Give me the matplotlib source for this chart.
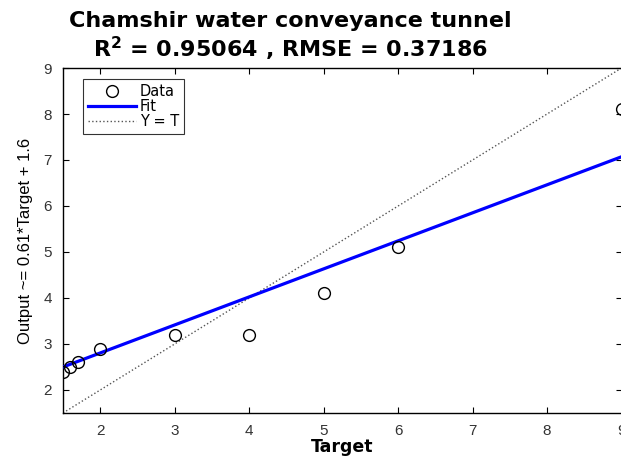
import matplotlib
matplotlib.use("Agg")
import matplotlib.pyplot as plt

# Data
target = [1.5, 1.6, 1.7, 2.0, 3.0, 4.0, 5.0, 6.0, 9.0]
output = [2.4, 2.5, 2.6, 2.9, 3.2, 3.2, 4.1, 5.1, 8.1]
fit_slope = 0.6094
fit_intercept = 1.586
lims = [1.5, 9.0]
xticks = [2, 3, 4, 5, 6, 7, 8, 9]
yticks = [2, 3, 4, 5, 6, 7, 8, 9]

plt.rcParams['font.family'] = ['Liberation Sans', 'DejaVu Sans']

fig = plt.figure(figsize=(6.21, 4.57), dpi=100)
ax = fig.add_axes([0.1014, 0.0963, 0.8995, 0.7549])

ax.plot(target, output, 'o', mfc='none', mec='black', ms=8.5, mew=1.0, label='Data', zorder=4)
fx = lims
fy = [fit_slope * v + fit_intercept for v in fx]
ax.plot(fx, fy, '-', color='#0000ff', lw=2.3, label='Fit', zorder=3)
ax.plot(lims, lims, ':', color='#555555', lw=1.0, label='Y = T', zorder=2)

ax.set_xlim(lims)
ax.set_ylim(lims)
ax.set_xticks(xticks)
ax.set_yticks(yticks)
ax.tick_params(direction='in', top=True, right=True, length=4, width=0.8,
               labelsize=11, labelcolor='#333333')
ax.tick_params(axis='x', pad=8)
ax.tick_params(axis='y', pad=8)
for s in ax.spines.values():
    s.set_linewidth(1.0)

ax.set_xlabel('Target', fontsize=12.5, fontweight='bold', family=['DejaVu Sans'], labelpad=0)
ax.set_ylabel('Output ~= 0.61*Target + 1.6', fontsize=12)
ax.yaxis.set_label_coords(-0.054, 0.5)

fig.text(0.467, 0.954, 'Chamshir water conveyance tunnel', ha='center', va='center',
         fontsize=16, fontweight='bold', family=['DejaVu Sans'])
fig.text(0.467, 0.893, r'R$^\mathbf{2}$ = 0.95064 , RMSE = 0.37186', ha='center', va='center',
         fontsize=16, fontweight='bold', family=['DejaVu Sans'])

leg = ax.legend(loc='upper left', bbox_to_anchor=(0.036, 0.968), borderaxespad=0,
                prop={'family': ['DejaVu Sans'], 'size': 10.5},
                frameon=True, fancybox=False, edgecolor='black', handlelength=3.3,
                borderpad=0.35, labelspacing=0.0, handletextpad=0.25)
leg.get_frame().set_linewidth(0.8)

fig.savefig('out.png', dpi=100)
